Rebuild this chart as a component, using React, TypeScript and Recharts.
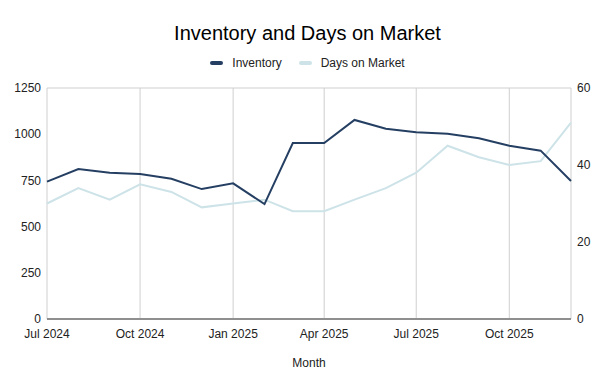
import { LineChart, Line, XAxis, YAxis, CartesianGrid } from "recharts";

// Monthly points, Jul 2024 – Dec 2025.
const months = [
  "2024-07", "2024-08", "2024-09", "2024-10", "2024-11", "2024-12",
  "2025-01", "2025-02", "2025-03", "2025-04", "2025-05", "2025-06",
  "2025-07", "2025-08", "2025-09", "2025-10", "2025-11", "2025-12",
];
const inventory = [743, 811, 792, 785, 759, 703, 734, 622, 952, 952, 1077, 1030, 1010, 1003, 978, 938, 911, 747];
const daysOnMarket = [30, 34, 31, 35, 33, 29, 30, 31, 28, 28, 31, 34, 38, 45, 42, 40, 41, 51];

const tickMonths = ["2024-07", "2024-10", "2025-01", "2025-04", "2025-07", "2025-10"];
const tickLabels = ["Jul 2024", "Oct 2024", "Jan 2025", "Apr 2025", "Jul 2025", "Oct 2025"];
const leftTicks = [0, 250, 500, 750, 1000, 1250];
const rightTicks = [0, 20, 40, 60];

const C = {
  inv: "#253f63",
  dom: "#cde3e8",
  grid: "#cfcfcf",
  axis: "#8f8f8f",
  text: "#222222",
};
const FONT = "'Liberation Sans', Arial, sans-serif";

// Time axis: x is days since the first month, so quarters land where a date scale puts them.
const dayOf = (m: string) => {
  const [y, mo] = m.split("-").map(Number);
  return Date.UTC(y, mo - 1, 1) / 86400000;
};
const day0 = dayOf(months[0]);
const data = months.map((m, i) => ({ t: dayOf(m) - day0, inventory: inventory[i], dom: daysOnMarket[i] }));
const ticks = tickMonths.map((m) => dayOf(m) - day0);
const tickName = (v: number) => tickLabels[ticks.indexOf(v)] ?? "";

const tick = { fill: C.text, fontSize: 12, fontFamily: FONT };

function Swatch({ color }: { color: string }) {
  return <span style={{ display: "inline-block", width: 13, height: 4, borderRadius: 2, background: color, marginRight: 9 }} />;
}

export default function App() {
  return (
    <div style={{ position: "absolute", left: 0, top: 0, width: 615, height: 376, background: "#fff", fontFamily: FONT }}>
      <div style={{ position: "absolute", top: 21, left: 0, width: 615, textAlign: "center", fontSize: 20, lineHeight: "24px", color: "#000" }}>
        Inventory and Days on Market
      </div>
      <div style={{ position: "absolute", top: 55, left: 0, width: 615, display: "flex", justifyContent: "center", alignItems: "center", fontSize: 12, lineHeight: "16px", color: C.text }}>
        <span style={{ display: "inline-flex", alignItems: "center", marginRight: 17 }}>
          <Swatch color={C.inv} />Inventory
        </span>
        <span style={{ display: "inline-flex", alignItems: "center" }}>
          <Swatch color={C.dom} />Days on Market
        </span>
      </div>
      <LineChart width={615} height={376} data={data} margin={{ top: 88, right: 0, bottom: 0, left: 0 }}>
        <CartesianGrid stroke={C.grid} strokeWidth={1} />
        <XAxis
          dataKey="t" type="number" domain={[0, data[data.length - 1].t]} ticks={ticks}
          tickFormatter={tickName} tick={tick} tickLine={false} tickMargin={4} height={57}
          axisLine={{ stroke: C.axis, strokeWidth: 2 }}
          label={{ value: "Month", position: "insideBottom", offset: 9, fill: C.text, fontSize: 12, fontFamily: FONT }}
        />
        <YAxis yAxisId="left" domain={[0, 1250]} ticks={leftTicks} tick={tick} width={47}
          axisLine={false} tickLine={false} tickMargin={0} />
        <YAxis yAxisId="right" orientation="right" domain={[0, 60]} ticks={rightTicks} tick={tick} width={44}
          axisLine={false} tickLine={false} tickMargin={0} />
        <Line yAxisId="right" dataKey="dom" stroke={C.dom} strokeWidth={2} dot={false} isAnimationActive={false} />
        <Line yAxisId="left" dataKey="inventory" stroke={C.inv} strokeWidth={2} dot={false} isAnimationActive={false} />
      </LineChart>
    </div>
  );
}
